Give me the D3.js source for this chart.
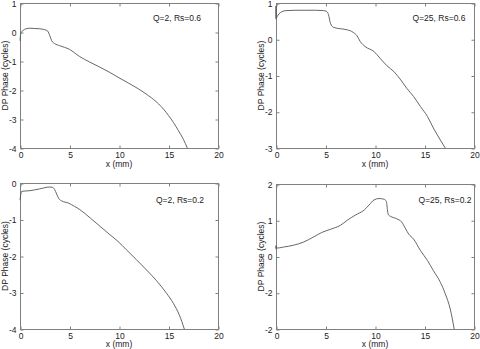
<!DOCTYPE html>
<html><head><meta charset="utf-8">
<script src="https://cdn.jsdelivr.net/npm/d3@7"></script>
<style>body{margin:0;background:#fff}svg{display:block}</style>
</head><body>
<svg id="c" width="480" height="349"></svg>
<script>
// Panel 1: Q=2, Rs=0.6
const x1 = [0,0.1,0.3,0.6,1.0,1.5,2.0,2.5,2.8,3.0,3.2,3.5,4,5,6,7,8,9,10,11,12,13,14,14.5,15,15.5,16,16.5,16.9];
const y1 = [-0.3,-0.02,0.05,0.11,0.13,0.12,0.11,0.08,0.03,-0.12,-0.3,-0.4,-0.47,-0.6,-0.84,-1.03,-1.2,-1.38,-1.58,-1.77,-1.97,-2.2,-2.48,-2.66,-2.88,-3.12,-3.4,-3.7,-4.0];
// Panel 2: Q=25, Rs=0.6
const x2 = [0,0,0,0.15,0.3,0.6,1.0,2,3,4,4.8,5.1,5.3,5.5,5.8,6.5,7.2,7.8,8.2,8.5,9.0,9.9,10.5,11.2,11.9,12.6,13.2,13.9,14.6,15.3,15.9,16.6,17.1];
const y2 = [0.55,0.92,0.58,0.64,0.7,0.76,0.79,0.8,0.8,0.8,0.79,0.77,0.68,0.44,0.33,0.29,0.26,0.19,0.09,-0.06,-0.2,-0.34,-0.52,-0.73,-0.89,-1.12,-1.35,-1.58,-1.86,-2.13,-2.45,-2.78,-3.0];
// Panel 3: Q=2, Rs=0.2
const x3 = [0,0.17,0.5,1.0,2.0,3.0,3.3,3.5,3.7,3.9,4.2,4.9,5.5,6.05,7.1,8.1,9.1,9.9,10.75,11.76,12.77,13.8,14.8,15.5,16.1,16.6];
const y3 = [-0.47,-0.23,-0.22,-0.21,-0.16,-0.11,-0.12,-0.18,-0.3,-0.42,-0.49,-0.55,-0.64,-0.73,-0.96,-1.19,-1.42,-1.6,-1.83,-2.1,-2.38,-2.68,-3.02,-3.3,-3.62,-4.0];
// Panel 4: Q=25, Rs=0.2
const x4 = [0,0,0,0.75,1.75,2.8,3.8,4.6,5.5,6.5,7.2,8.0,8.9,9.4,9.9,10.4,10.9,11.15,11.25,11.35,11.55,12.2,12.7,13.1,13.4,13.9,14.6,15.3,15.9,16.6,17.1,17.6,18.0];
const y4 = [0.2,0.3,0.23,0.26,0.31,0.4,0.54,0.66,0.75,0.86,1.0,1.14,1.28,1.42,1.56,1.6,1.58,1.52,1.3,1.15,1.11,1.04,0.95,0.76,0.62,0.48,0.16,-0.11,-0.39,-0.71,-1.03,-1.45,-2.0];

const labels = ["Q=2, Rs=0.6","Q=25, Rs=0.6","Q=2, Rs=0.2","Q=25, Rs=0.2"];
const yDomains = [[-4,1],[-3,1],[-4,0],[-2,2]];
const xTicks = [0,5,10,15,20];
const yTicks1 = [-4,-3,-2,-1,0,1];
const yTicks2 = [-3,-2,-1,0,1];
const yTicks3 = [-4,-3,-2,-1,0];
const yTicks4 = [-2,-1,0,1,2];
const yTickLabels4 = ["-2","-2","0","1","2"];
const xLabel = "x (mm)";
const yLabel = "DP Phase (cycles)";

const panels = [
  {xs:x1, ys:y1, box:[20,218,3,148], yt:yTicks1, ytl:yTicks1.map(String), lab:[177,21], xl:19},
  {xs:x2, ys:y2, box:[276,474,3,148], yt:yTicks2, ytl:yTicks2.map(String), lab:[439,21], xl:19},
  {xs:x3, ys:y3, box:[20,218,183,329], yt:yTicks3, ytl:yTicks3.map(String), lab:[180,203], xl:18},
  {xs:x4, ys:y4, box:[276,474,184,329], yt:yTicks4, ytl:yTickLabels4, lab:[445,203], xl:18}
];

const svg = d3.select("#c");
const axisCol = "#808080", textCol = "#222", lineCol = "#555";
const font = "Liberation Sans, Arial, sans-serif";

panels.forEach((p,i)=>{
  const [l,r,t,b] = p.box;
  const x = d3.scaleLinear().domain([0,20]).range([l,r]);
  const y = d3.scaleLinear().domain(yDomains[i]).range([b,t]);
  const g = svg.append("g");
  g.append("rect").attr("x",l+0.5).attr("y",t+0.5).attr("width",r-l).attr("height",b-t)
    .attr("fill","none").attr("stroke",axisCol).attr("stroke-width",1);
  const styleAx = sel => {
    sel.select(".domain").remove();
    sel.selectAll("line").attr("stroke",axisCol);
    sel.selectAll("text").attr("fill",textCol).style("font-family",font).style("font-size","8.5px");
  };
  g.append("g").attr("transform",`translate(0.5,${b+0.5})`)
    .call(d3.axisBottom(x).tickValues(xTicks).tickSizeInner(-3).tickSizeOuter(0).tickPadding(3))
    .call(styleAx);
  g.append("g").attr("transform",`translate(0.5,${t+0.5})`)
    .call(d3.axisTop(x).tickValues(xTicks).tickSizeInner(-3).tickSizeOuter(0).tickFormat(""))
    .call(styleAx);
  g.append("g").attr("transform",`translate(${l+0.5},0.5)`)
    .call(d3.axisLeft(y).tickValues(p.yt).tickSizeInner(-3).tickSizeOuter(0).tickPadding(4)
      .tickFormat((d,k)=>p.ytl[k]))
    .call(styleAx);
  g.append("g").attr("transform",`translate(${r+0.5},0.5)`)
    .call(d3.axisRight(y).tickValues(p.yt).tickSizeInner(-3).tickSizeOuter(0).tickFormat(""))
    .call(styleAx);
  const data = p.xs.map((v,k)=>[v,p.ys[k]]);
  g.append("path").datum(data)
    .attr("d", d3.line().x(d=>x(d[0])).y(d=>y(d[1])).curve(d3.curveMonotoneX))
    .attr("fill","none").attr("stroke",lineCol).attr("stroke-width",0.9);
  g.append("text").attr("x",(l+r)/2).attr("y",b+p.xl).attr("text-anchor","middle")
    .attr("fill",textCol).style("font-family",font).style("font-size","8.5px").text(xLabel);
  const yc = (t+b)/2, xc = l-15;
  g.append("text").attr("transform",`translate(${xc},${yc}) rotate(-90)`)
    .attr("text-anchor","middle").attr("dy","0.35em")
    .attr("fill",textCol).style("font-family",font).style("font-size","8.5px").text(yLabel);
  g.append("text").attr("x",p.lab[0]).attr("y",p.lab[1]).attr("text-anchor","middle")
    .attr("fill",textCol).style("font-family",font).style("font-size","8.5px").text(labels[i]);
});
</script>
</body></html>
